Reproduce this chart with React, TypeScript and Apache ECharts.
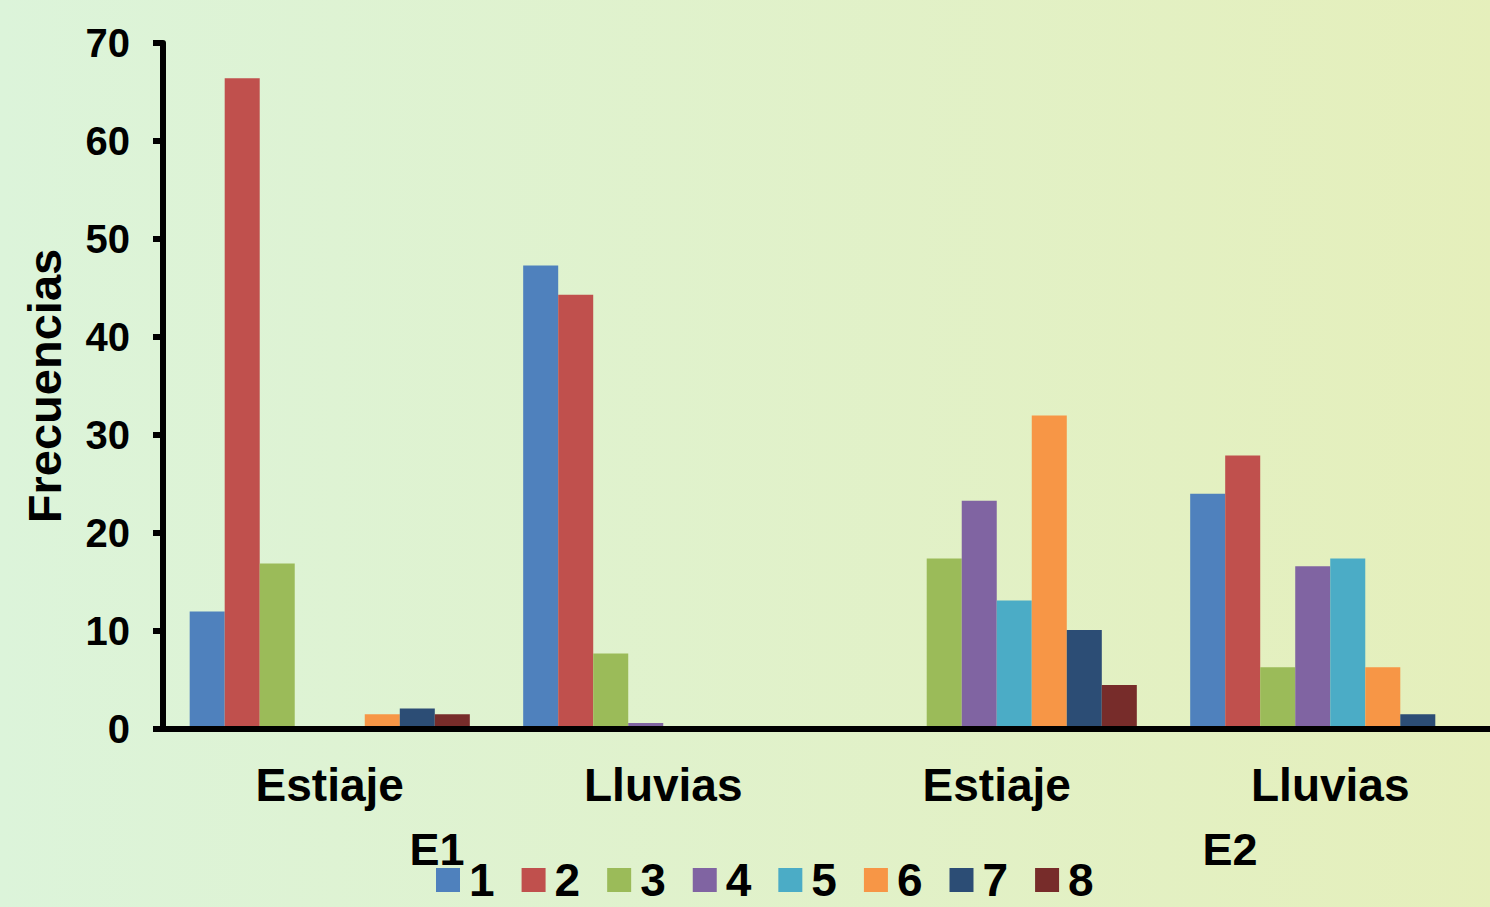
import React, { useEffect, useRef } from "react";
import * as echarts from "echarts";

// Categories along the x axis (two seasons for each station)
const categories = ["Estiaje", "Lluvias", "Estiaje", "Lluvias"];
const groupLabels = ["E1", "E2"];
const seriesNames = ["1", "2", "3", "4", "5", "6", "7", "8"];

// Frequencies per class, one array per class, ordered as the categories
const class1 = [12, 47.3, 0, 24];
const class2 = [66.4, 44.3, 0, 27.9];
const class3 = [16.9, 7.7, 17.4, 6.3];
const class4 = [0, 0.6, 23.3, 16.6];
const class5 = [0, 0, 13.1, 17.4];
const class6 = [1.5, 0, 32, 6.3];
const class7 = [2.1, 0, 10.1, 1.5];
const class8 = [1.5, 0, 4.5, 0];

const seriesValues = [class1, class2, class3, class4, class5, class6, class7, class8];
const colors = ["#4F81BD", "#C0504D", "#9BBB59", "#8064A2", "#4BACC6", "#F79646", "#2C4D75", "#772C2A"];

const FONT = 'Arial, "Liberation Sans", sans-serif';

export default function App() {
  const ref = useRef<HTMLDivElement>(null);

  useEffect(() => {
    if (!ref.current) return;
    const chart = echarts.init(ref.current, null, { renderer: "svg" });
    chart.setOption({
      animation: false,
      backgroundColor: {
        type: "linear",
        x: 0,
        y: 0,
        x2: 1,
        y2: 0,
        colorStops: [
          { offset: 0, color: "#DCF4DA" },
          { offset: 1, color: "#E5EFBB" },
        ],
      },
      textStyle: { fontFamily: FONT },
      // the plot runs a little past the right edge of the visible area
      grid: { left: 163, right: 3, top: 43, bottom: 178, containLabel: false },
      legend: {
        data: seriesNames,
        left: 436,
        top: 857,
        padding: 0,
        itemWidth: 24,
        itemHeight: 24,
        itemGap: 27,
        icon: "rect",
        textStyle: {
          fontSize: 46,
          fontWeight: "bold",
          color: "#000",
          fontFamily: FONT,
          padding: [0, 0, 0, 4],
        },
      },
      xAxis: {
        type: "category",
        data: categories,
        z: 5,
        axisLine: { show: true, lineStyle: { color: "#000", width: 6 } },
        axisTick: { show: false },
        axisLabel: {
          margin: 33,
          fontSize: 46,
          fontWeight: "bold",
          color: "#000",
          fontFamily: FONT,
        },
        splitLine: { show: false },
      },
      yAxis: {
        type: "value",
        min: 0,
        max: 70,
        interval: 10,
        z: 5,
        name: "Frecuencias",
        nameLocation: "middle",
        nameGap: 95,
        nameTextStyle: { fontSize: 47, fontWeight: "bold", color: "#000", fontFamily: FONT },
        axisLine: { show: true, lineStyle: { color: "#000", width: 6 } },
        axisTick: { show: true, length: 10, lineStyle: { color: "#000", width: 6 } },
        axisLabel: {
          margin: 33,
          fontSize: 40,
          fontWeight: "bold",
          color: "#000",
          fontFamily: FONT,
        },
        splitLine: { show: false },
      },
      graphic: [
        {
          type: "text",
          x: 437,
          y: 849,
          style: {
            text: groupLabels[0],
            fontSize: 45,
            fontWeight: "bold",
            fontFamily: FONT,
            fill: "#000",
            textAlign: "center",
            textVerticalAlign: "middle",
          },
        },
        {
          type: "text",
          x: 1230,
          y: 849,
          style: {
            text: groupLabels[1],
            fontSize: 45,
            fontWeight: "bold",
            fontFamily: FONT,
            fill: "#000",
            textAlign: "center",
            textVerticalAlign: "middle",
          },
        },
      ],
      series: seriesNames.map((name, i) => ({
        name,
        type: "bar",
        data: seriesValues[i],
        barGap: "0%",
        barCategoryGap: "16%",
        itemStyle: { color: colors[i] },
      })),
    });
    return () => chart.dispose();
  }, []);

  return (
    <div
      ref={ref}
      style={{ position: "fixed", left: 0, top: 0, width: 1500, height: 907 }}
    />
  );
}
